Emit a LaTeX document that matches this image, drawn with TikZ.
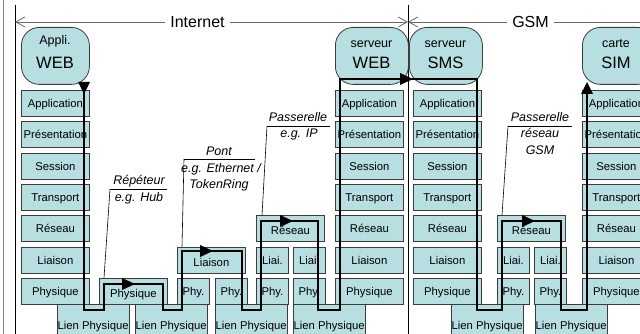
\documentclass[tikz,border=0pt]{standalone}
\usepackage{fontspec}
\setmainfont{Liberation Sans}
\usetikzlibrary{arrows.meta}
\definecolor{boxfill}{RGB}{183,222,224}
\definecolor{boxline}{RGB}{60,60,60}
\definecolor{dimgray}{RGB}{105,105,105}
\begin{document}
\begin{tikzpicture}[x=1pt,y=-1pt,
  layer/.style={draw=boxline, line width=0.8pt, fill=boxfill, minimum width=68pt,
    minimum height=26pt, inner sep=0pt, font=\fontsize{11.3}{13}\selectfont,
    text height=8pt, text depth=0pt, anchor=north west},
  narrow/.style={layer, minimum width=32pt},
  lowtext/.style={text height=12pt},
  lien/.style={layer, minimum width=71.5pt, minimum height=42pt, text height=9pt},
  rbox/.style={draw=boxline, line width=0.8pt, fill=boxfill, rounded corners=18pt,
    minimum height=57pt, inner sep=0pt, anchor=north west},
  small/.style={font=\fontsize{12.5}{14}\selectfont, anchor=base, inner sep=0pt},
  big/.style={font=\fontsize{16.5}{18}\selectfont, anchor=base, inner sep=0pt},
  callt/.style={font=\fontsize{12.5}{14}\selectfont\itshape, anchor=base, inner sep=0pt},
  callline/.style={draw=black, line width=0.6pt},
  dim/.style={draw=dimgray, line width=0.8pt},
  route/.style={draw=black, line width=2.6pt, line join=miter},
  tri/.style={fill=black}
]
\useasboundingbox (0,0) rectangle (640,334);
\clip (0,0) rectangle (640,334);

% frame lines
\draw[draw=gray, line width=0.6pt] (3,0) -- (3,340);
\draw[black, line width=0.7pt] (15,5) -- (15,340);
\draw[black, line width=0.7pt] (408,5) -- (408,340);

% dimension lines
\draw[dim, {Straight Barb[length=9pt,width=10pt]}-{Straight Barb[length=9pt,width=10pt]}] (15,22) -- (408,22);
\node[fill=white, inner xsep=5pt, inner ysep=1pt, font=\fontsize{16}{18}\selectfont] (inet) at (197.5,22) {Internet};
\draw[dim, {Straight Barb[length=9pt,width=10pt]}-] (408,22) -- (660,22);
\node[fill=white, inner xsep=5pt, inner ysep=1pt, font=\fontsize{16}{18}\selectfont] (gsm) at (530.5,22) {GSM};

% rounded application boxes
\node[rbox, minimum width=68pt] (appli) at (21,27) {};
\node[small] (appliA) at (55,45) {Appli.};
\node[big] (appliB) at (55,69) {WEB};
\node[rbox, minimum width=73pt] (srvweb) at (335,27) {};
\node[small] (srvwebA) at (371.5,48) {serveur};
\node[big] (srvwebB) at (371.5,69) {WEB};
\node[rbox, minimum width=73pt] (srvsms) at (409,27) {};
\node[small] (srvsmsA) at (445.5,48) {serveur};
\node[big] (srvsmsB) at (445.5,69) {SMS};
\node[rbox, minimum width=73pt] (sim) at (582,27) {};
\node[small] (simA) at (616,48) {carte};
\node[big] (simB) at (616,69) {SIM};

% protocol stacks
\foreach \sx/\sn in {21/a,335/b,413/c,582/d} {
  \foreach \lbl [count=\i from 0] in {Application,Présentation,Session,Transport,Réseau,Liaison,Physique} {
    \node[layer] (\sn\i) at (\sx,90+31.333*\i) {\lbl};
  }
}

% repeater
\node[layer, lowtext] (hubP) at (99,278) {Physique};
% bridge
\node[layer, lowtext] (brL) at (177,246.67) {Liaison};
\node[narrow] (brP1) at (177,278) {Phy.};
\node[narrow] (brP2) at (215,278) {Phy.};
% router
\node[layer, lowtext] (rtR) at (256,215.33) {Réseau};
\node[narrow] (rtL1) at (256,246.67) {Liai.};
\node[narrow] (rtL2) at (293,246.67) {Liai.};
\node[narrow] (rtP1) at (256,278) {Phy.};
\node[narrow] (rtP2) at (293,278) {Phy.};
% GSM gateway
\node[layer, lowtext] (gwR) at (497,215.33) {Réseau};
\node[narrow] (gwL1) at (497,246.67) {Liai.};
\node[narrow] (gwL2) at (534,246.67) {Liai.};
\node[narrow] (gwP1) at (497,278) {Phy.};
\node[narrow] (gwP2) at (534,278) {Phy.};

% physical links
\foreach \lx/\ln in {57/l1,135/l2,215/l3,293/l4,451/l5,535/l6} {
  \node[lien] (\ln) at (\lx,304) {Lien Physique};
}

% callouts
\node[callt] (repA) at (139,185) {Répéteur};
\node[callt] (repB) at (139,201) {e.g. Hub};
\coordinate (repC) at (110,189);
\draw[callline] (repC) -- (167,189);
\draw[callline] (repC) -- ([xshift=5pt]hubP.north west);

\node[callt] (pontA) at (219,156) {Pont};
\node[callt] (pontB) at (221,172) {e.g. Ethernet /};
\node[callt] (pontC) at (219,188) {TokenRing};
\coordinate (pontD) at (184,159);
\draw[callline] (pontD) -- (255,159);
\draw[callline] (pontD) -- ([xshift=5pt]brL.north west);

\node[callt] (ipA) at (298,122) {Passerelle};
\node[callt] (ipB) at (299,138) {e.g. IP};
\coordinate (ipC) at (267,126);
\draw[callline] (ipC) -- (330,126);
\draw[callline] (ipC) -- ([xshift=6pt]rtR.north west);

\node[callt] (gwA) at (540,122) {Passerelle};
\node[callt] (gwB) at (540,138) {réseau};
\node[callt] (gwC) at (540,154) {GSM};
\coordinate (gwD) at (508,126);
\draw[callline] (gwD) -- (572,126);
\draw[callline] (gwD) -- ([xshift=5pt]gwR.north west);

% data route
\draw[route] (84,83) -- (84,310) -- (104,310) -- (104,284) -- (163,284) -- (163,310)
  -- (182,310) -- (182,251) -- (242,251) -- (242,310) -- (261,310) -- (261,221)
  -- (318,221) -- (318,310) -- (340,310) -- (340,79) -- (477,79) -- (477,310)
  -- (502,310) -- (502,221) -- (561,221) -- (561,310) -- (587,310) -- (587,92);
% arrowheads on the route
\fill[tri] (84,94) -- ++(-6,-12) -- ++(12,0) -- cycle;
\fill[tri] (135,284) -- ++(-13,-6) -- ++(0,12) -- cycle;
\fill[tri] (213,251) -- ++(-13,-6) -- ++(0,12) -- cycle;
\fill[tri] (293,221) -- ++(-13,-6) -- ++(0,12) -- cycle;
\fill[tri] (413,79) -- ++(-13,-6) -- ++(0,12) -- cycle;
\fill[tri] (535,221) -- ++(-13,-6) -- ++(0,12) -- cycle;
\fill[tri] (587,82) -- ++(-6,12) -- ++(12,0) -- cycle;
\end{tikzpicture}
\end{document}
